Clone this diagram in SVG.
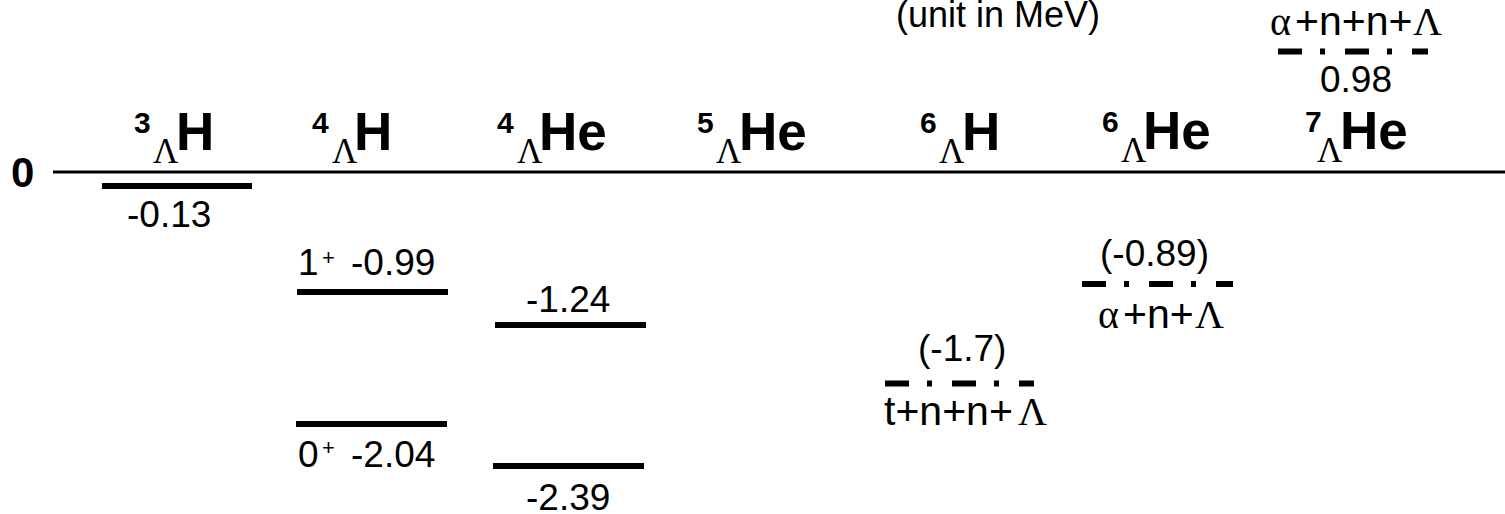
<svg xmlns="http://www.w3.org/2000/svg" width="1505" height="514" viewBox="0 0 1505 514">
<style>
text{font-family:"Liberation Sans",Arial,sans-serif;fill:#000}
.num{font-size:37px}
.zero{font-size:42px;font-weight:bold}
.sup{font-size:30px;font-weight:bold}
.el{font-size:53px;font-weight:bold}
.lam{font-family:"Liberation Serif","Times New Roman",serif;font-size:35px}
.glam{font-family:"Liberation Serif","Times New Roman",serif;font-size:40px}
.form{font-size:41px}
.psup{font-size:22px}
.lvl{stroke:#000;stroke-width:6;fill:none}
.thr{stroke:#000;stroke-width:6;fill:none;stroke-dasharray:24 18 5 20}
.axis{stroke:#000;stroke-width:3}
</style>
<rect width="1505" height="514" fill="#fff"/>
<g id="axis">
<line class="axis" x1="53" y1="172" x2="1505" y2="172"/>
<text class="zero" x="11" y="187">0</text>
<text class="num" x="896" y="27" style="font-size:36px">(unit in MeV)</text>
</g>
<g id="h3l">
<text><tspan class="sup" x="134" y="133">3</tspan><tspan class="lam" x="153" y="163">Λ</tspan><tspan class="el" x="176" y="150">H</tspan></text>
<line class="lvl" x1="102" y1="186" x2="252" y2="186"/>
<text class="num" x="127" y="227">-0.13</text>
</g>
<g id="h4l">
<text><tspan class="sup" x="312" y="133">4</tspan><tspan class="lam" x="332" y="163">Λ</tspan><tspan class="el" x="354" y="150">H</tspan></text>
<line class="lvl" x1="297" y1="292" x2="448" y2="292"/>
<text class="num" x="298" y="275">1</text><text class="psup" x="322" y="265">+</text><text class="num" x="351" y="275">-0.99</text>
<line class="lvl" x1="296" y1="424" x2="447" y2="424"/>
<text class="num" x="298" y="467">0</text><text class="psup" x="322" y="455">+</text><text class="num" x="351" y="467">-2.04</text>
</g>
<g id="he4l">
<text><tspan class="sup" x="497" y="133">4</tspan><tspan class="lam" x="517" y="163">Λ</tspan><tspan class="el" x="539" y="150">He</tspan></text>
<text class="num" x="526" y="312">-1.24</text>
<line class="lvl" x1="495" y1="325" x2="646" y2="325"/>
<line class="lvl" x1="493" y1="466" x2="644" y2="466"/>
<text class="num" x="526" y="510">-2.39</text>
</g>
<g id="he5l">
<text><tspan class="sup" x="697" y="133">5</tspan><tspan class="lam" x="716" y="163">Λ</tspan><tspan class="el" x="739" y="150">He</tspan></text>
</g>
<g id="h6l">
<text><tspan class="sup" x="920" y="133">6</tspan><tspan class="lam" x="939" y="163">Λ</tspan><tspan class="el" x="962" y="150">H</tspan></text>
<text class="num" x="918" y="361">(-1.7)</text>
<line class="thr" x1="885" y1="383.5" x2="1034" y2="383.5"/>
<text><tspan class="form" x="884" y="425">t+n+n+</tspan><tspan class="glam" x="1018" y="425">Λ</tspan></text>
</g>
<g id="he6l">
<text><tspan class="sup" x="1102" y="132">6</tspan><tspan class="lam" x="1121" y="162">Λ</tspan><tspan class="el" x="1143" y="149">He</tspan></text>
<text class="num" x="1100" y="266">(-0.89)</text>
<line class="thr" x1="1082" y1="284" x2="1233" y2="284"/>
<text><tspan class="glam" x="1098" y="328">α</tspan><tspan class="form" x="1123" y="328">+n+</tspan><tspan class="glam" x="1195" y="328">Λ</tspan></text>
</g>
<g id="he7l">
<text><tspan class="sup" x="1305" y="132">7</tspan><tspan class="lam" x="1317" y="162">Λ</tspan><tspan class="el" x="1340" y="149">He</tspan></text>
<text><tspan class="glam" x="1270" y="35">α</tspan><tspan class="form" x="1295" y="35">+n+n+</tspan><tspan class="glam" x="1413" y="35">Λ</tspan></text>
<line class="thr" x1="1278" y1="51.5" x2="1428" y2="51.5"/>
<text class="num" x="1356" y="92" text-anchor="middle">0.98</text>
</g>
</svg>
